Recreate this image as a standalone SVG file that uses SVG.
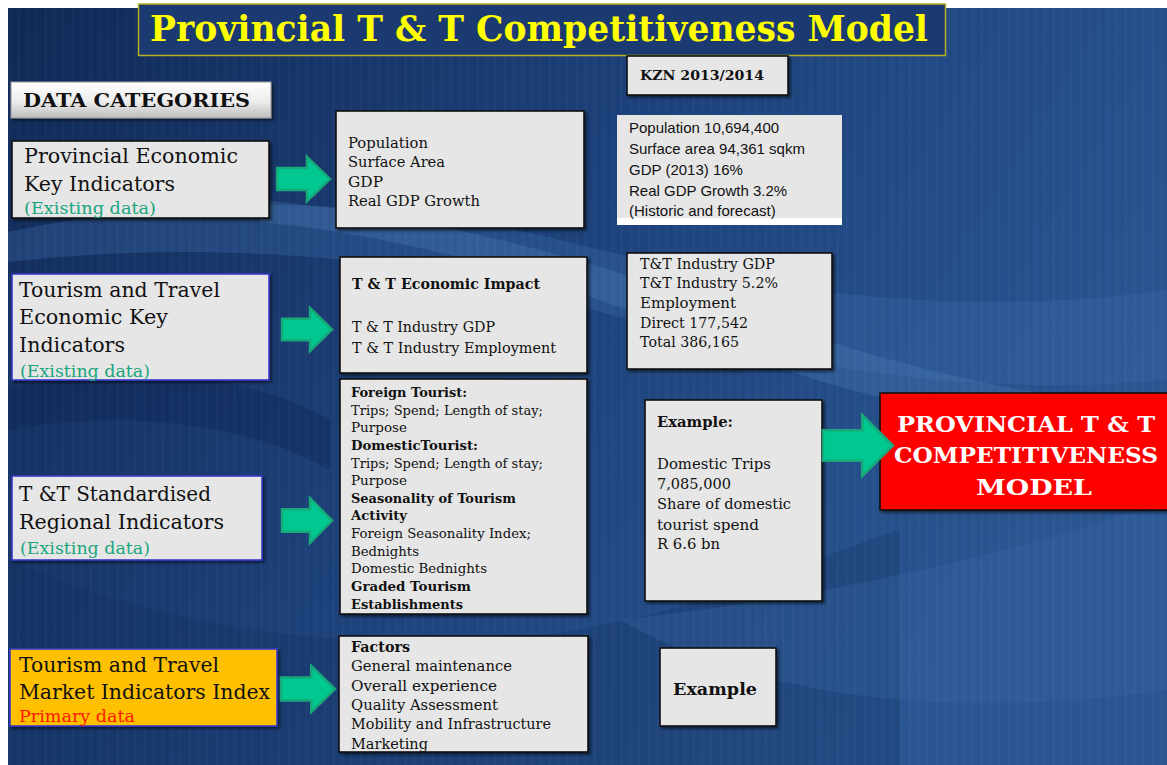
<svg xmlns="http://www.w3.org/2000/svg" width="1167" height="765" viewBox="0 0 1167 765">
  <defs>
    <linearGradient id="bg" x1="0" y1="0" x2="1" y2="0.4">
      <stop offset="0" stop-color="#112a57"/>
      <stop offset="0.5" stop-color="#1d417a"/>
      <stop offset="1" stop-color="#2a5692"/>
    </linearGradient>
    <linearGradient id="hdr" x1="0" y1="0" x2="0" y2="1">
      <stop offset="0" stop-color="#ffffff"/>
      <stop offset="0.55" stop-color="#ececec"/>
      <stop offset="1" stop-color="#bdbdbd"/>
    </linearGradient>
    <pattern id="streaks" width="9" height="20" patternUnits="userSpaceOnUse">
      <rect x="0" y="0" width="1" height="20" fill="#ffffff" opacity="0.035"/>
      <rect x="5" y="0" width="1" height="20" fill="#000000" opacity="0.04"/>
    </pattern>
    <filter id="shadow" x="-5%" y="-5%" width="115%" height="120%">
      <feDropShadow dx="2" dy="2" stdDeviation="1.5" flood-color="#000" flood-opacity="0.55"/>
    </filter>
    <style>
      .box { fill: #e6e6e6; stroke: #111; stroke-width: 1.6; filter: url(#shadow); }
      .boxb { fill: #e6e6e6; stroke: #3a3ac8; stroke-width: 1.6; filter: url(#shadow); }
      .slab { font-family: "DejaVu Serif", "Liberation Serif", serif; fill: #111; }
      .big { font-size: 21px; }
      .mid { font-size: 14px; }
      .sm { font-size: 12.5px; }
      .b { font-weight: bold; }
      .green { fill: #1aa57e; font-size: 17px; }
      .sans { font-family: "Liberation Sans", Arial, sans-serif; font-size: 15px; fill: #111; }
      .arr { fill: #00c890; stroke: #17a97a; stroke-width: 2.5; stroke-linejoin: miter; }
    </style>
  </defs>

  <!-- page -->
  <rect width="1167" height="765" fill="#ffffff"/>
  <rect x="8" y="8" width="1159" height="757" fill="url(#bg)"/>
  <!-- soft sweeping bands in the backdrop -->
  <path d="M8,232 C200,190 400,200 560,240 C760,290 950,320 1167,290 L1167,380 C950,400 760,360 560,300 C400,255 200,240 8,262 Z" fill="#3d6aa8" opacity="0.35"/>
  <path d="M260,200 C420,215 560,250 700,300 C850,350 1000,400 1167,405 L1167,440 C980,430 820,390 680,330 C540,275 400,235 260,222 Z" fill="#5080bb" opacity="0.3"/>
  <path d="M8,560 C150,620 300,650 500,640 C700,620 800,560 900,530 L900,765 L8,765 Z" fill="#0f2a58" opacity="0.25"/>
  <path d="M620,620 C760,700 960,720 1167,690 L1167,500 C1000,560 800,600 620,620 Z" fill="#3d6aa8" opacity="0.3"/>
  <path d="M8,390 C120,360 240,370 330,420 L330,470 C240,420 120,410 8,430 Z" fill="#0d2350" opacity="0.35"/>
  <rect x="8" y="8" width="1159" height="757" fill="url(#streaks)"/>

  <!-- title -->
  <g id="title">
    <rect x="138.5" y="4" width="807" height="51.5" fill="#1b3a72" stroke="#b8b020" stroke-width="1.5"/>
    <text x="150" y="41" class="slab b" font-size="35" style="fill:#ffff00" textLength="778" lengthAdjust="spacingAndGlyphs">Provincial T &amp; T Competitiveness Model</text>
  </g>

  <g id="kzn">
    <rect x="627" y="56" width="161" height="39" class="box"/>
    <text x="640" y="80" class="slab b" font-size="13" textLength="124" lengthAdjust="spacingAndGlyphs">KZN 2013/2014</text>
  </g>

  <g id="data-categories">
    <rect x="11" y="82" width="260" height="36" fill="url(#hdr)" stroke="#9a9a9a" stroke-width="1" filter="url(#shadow)"/>
    <text x="23" y="107" class="slab b" font-size="19" textLength="227" lengthAdjust="spacingAndGlyphs">DATA CATEGORIES</text>
  </g>

  <!-- row 1 -->
  <g id="provincial-economic">
    <rect x="12" y="141" width="257" height="77" class="box"/>
    <text class="slab big"><tspan x="24" y="163" textLength="214" lengthAdjust="spacingAndGlyphs">Provincial Economic</tspan><tspan x="24" y="191" textLength="151" lengthAdjust="spacingAndGlyphs">Key Indicators</tspan></text>
    <text x="24" y="214" class="slab green" textLength="132" lengthAdjust="spacingAndGlyphs">(Existing data)</text>
  </g>

  <g id="population-list">
    <rect x="336" y="111" width="248" height="117" class="box"/>
    <text class="slab mid">
      <tspan x="348" y="148" textLength="80" lengthAdjust="spacingAndGlyphs">Population</tspan>
      <tspan x="348" y="167" textLength="97" lengthAdjust="spacingAndGlyphs">Surface Area</tspan>
      <tspan x="348" y="187" textLength="35" lengthAdjust="spacingAndGlyphs">GDP</tspan>
      <tspan x="348" y="206" textLength="132" lengthAdjust="spacingAndGlyphs">Real GDP Growth</tspan>
    </text>
  </g>

  <g id="kzn-figures">
    <rect x="617" y="115" width="225" height="110" fill="#e6e6e6"/>
    <rect x="617" y="218" width="225" height="7" fill="#ffffff"/>
    <text class="sans">
      <tspan x="629" y="133">Population 10,694,400</tspan>
      <tspan x="629" y="154">Surface area 94,361 sqkm</tspan>
      <tspan x="629" y="175">GDP (2013) 16%</tspan>
      <tspan x="629" y="196">Real GDP Growth 3.2%</tspan>
      <tspan x="629" y="216">(Historic and forecast)</tspan>
    </text>
  </g>

  <!-- row 2 -->
  <g id="tt-economic">
    <rect x="12" y="274" width="257" height="106" class="boxb"/>
    <text class="slab big">
      <tspan x="19" y="297" textLength="201" lengthAdjust="spacingAndGlyphs">Tourism and Travel</tspan>
      <tspan x="19" y="324" textLength="149" lengthAdjust="spacingAndGlyphs">Economic Key</tspan>
      <tspan x="19" y="352" textLength="106" lengthAdjust="spacingAndGlyphs">Indicators</tspan>
    </text>
    <text x="20" y="377" class="slab green" textLength="130" lengthAdjust="spacingAndGlyphs">(Existing data)</text>
  </g>

  <g id="tt-impact">
    <rect x="340" y="257" width="247" height="116" class="box"/>
    <text x="352" y="289" class="slab mid b" textLength="188" lengthAdjust="spacingAndGlyphs">T &amp; T Economic Impact</text>
    <text class="slab mid">
      <tspan x="352" y="332" textLength="143" lengthAdjust="spacingAndGlyphs">T &amp; T Industry GDP</tspan>
      <tspan x="352" y="353" textLength="204" lengthAdjust="spacingAndGlyphs">T &amp; T Industry Employment</tspan>
    </text>
  </g>

  <g id="tt-figures">
    <rect x="627" y="253" width="205" height="116" class="box"/>
    <text class="slab mid">
      <tspan x="640" y="269" textLength="135" lengthAdjust="spacingAndGlyphs">T&amp;T Industry GDP</tspan>
      <tspan x="640" y="288" textLength="138" lengthAdjust="spacingAndGlyphs">T&amp;T Industry 5.2%</tspan>
      <tspan x="640" y="308" textLength="96" lengthAdjust="spacingAndGlyphs">Employment</tspan>
      <tspan x="640" y="328" textLength="108" lengthAdjust="spacingAndGlyphs">Direct 177,542</tspan>
      <tspan x="640" y="347" textLength="99" lengthAdjust="spacingAndGlyphs">Total 386,165</tspan>
    </text>
  </g>

  <!-- row 3 -->
  <g id="tt-standardised">
    <rect x="12" y="476" width="250" height="84" class="boxb"/>
    <text class="slab big">
      <tspan x="19" y="501" textLength="192" lengthAdjust="spacingAndGlyphs">T &amp;T Standardised</tspan>
      <tspan x="19" y="529" textLength="205" lengthAdjust="spacingAndGlyphs">Regional Indicators</tspan>
    </text>
    <text x="20" y="554" class="slab green" textLength="130" lengthAdjust="spacingAndGlyphs">(Existing data)</text>
  </g>

  <g id="tourist-indicators">
    <rect x="340" y="379" width="247" height="235" class="box"/>
    <text class="slab sm">
      <tspan x="351" y="397" font-weight="bold" textLength="116" lengthAdjust="spacingAndGlyphs">Foreign Tourist:</tspan>
      <tspan x="351" y="415" textLength="192" lengthAdjust="spacingAndGlyphs">Trips; Spend; Length of stay;</tspan>
      <tspan x="351" y="432" textLength="56" lengthAdjust="spacingAndGlyphs">Purpose</tspan>
      <tspan x="351" y="450" font-weight="bold" textLength="127" lengthAdjust="spacingAndGlyphs">DomesticTourist:</tspan>
      <tspan x="351" y="468" textLength="192" lengthAdjust="spacingAndGlyphs">Trips; Spend; Length of stay;</tspan>
      <tspan x="351" y="485" textLength="56" lengthAdjust="spacingAndGlyphs">Purpose</tspan>
      <tspan x="351" y="503" font-weight="bold" textLength="165" lengthAdjust="spacingAndGlyphs">Seasonality of Tourism</tspan>
      <tspan x="351" y="520" font-weight="bold" textLength="56" lengthAdjust="spacingAndGlyphs">Activity</tspan>
      <tspan x="351" y="538" textLength="180" lengthAdjust="spacingAndGlyphs">Foreign Seasonality Index;</tspan>
      <tspan x="351" y="556" textLength="68" lengthAdjust="spacingAndGlyphs">Bednights</tspan>
      <tspan x="351" y="573" textLength="136" lengthAdjust="spacingAndGlyphs">Domestic Bednights</tspan>
      <tspan x="351" y="591" font-weight="bold" textLength="120" lengthAdjust="spacingAndGlyphs">Graded Tourism</tspan>
      <tspan x="351" y="609" font-weight="bold" textLength="112" lengthAdjust="spacingAndGlyphs">Establishments</tspan>
    </text>
  </g>

  <g id="domestic-example">
    <rect x="645" y="400" width="177" height="201" class="box"/>
    <text x="657" y="427" class="slab mid b" textLength="76" lengthAdjust="spacingAndGlyphs">Example:</text>
    <text class="slab mid">
      <tspan x="657" y="469" textLength="114" lengthAdjust="spacingAndGlyphs">Domestic Trips</tspan>
      <tspan x="657" y="489" textLength="74" lengthAdjust="spacingAndGlyphs">7,085,000</tspan>
      <tspan x="657" y="509" textLength="134" lengthAdjust="spacingAndGlyphs">Share of domestic</tspan>
      <tspan x="657" y="530" textLength="102" lengthAdjust="spacingAndGlyphs">tourist spend</tspan>
      <tspan x="657" y="549" textLength="63" lengthAdjust="spacingAndGlyphs">R 6.6 bn</tspan>
    </text>
  </g>

  <g id="competitiveness-model">
    <rect x="880" y="393" width="295" height="117" fill="#ff0000" stroke="#111" stroke-width="1.6" filter="url(#shadow)"/>
    <text class="slab b" font-size="22" style="fill:#ffffff">
      <tspan x="897" y="432" textLength="258" lengthAdjust="spacingAndGlyphs">PROVINCIAL T &amp; T</tspan>
      <tspan x="894" y="463" textLength="264" lengthAdjust="spacingAndGlyphs">COMPETITIVENESS</tspan>
      <tspan x="976" y="495" textLength="116" lengthAdjust="spacingAndGlyphs">MODEL</tspan>
    </text>
  </g>

  <!-- row 4 -->
  <g id="market-indicators">
    <rect x="10" y="649" width="267" height="77" fill="#ffc000" stroke="#3a3ac8" stroke-width="1.6" filter="url(#shadow)"/>
    <text class="slab big">
      <tspan x="19" y="672" textLength="200" lengthAdjust="spacingAndGlyphs">Tourism and Travel</tspan>
      <tspan x="19" y="699" textLength="251" lengthAdjust="spacingAndGlyphs">Market Indicators Index</tspan>
    </text>
    <text x="19" y="722" class="slab" font-size="16" style="fill:#ff1a00" textLength="116" lengthAdjust="spacingAndGlyphs">Primary data</text>
  </g>

  <g id="factors">
    <rect x="339" y="636" width="249" height="116" class="box"/>
    <svg x="339" y="636" width="249" height="116" overflow="hidden">
      <text class="slab mid">
        <tspan x="12" y="16" font-weight="bold" textLength="59" lengthAdjust="spacingAndGlyphs">Factors</tspan>
        <tspan x="12" y="35" textLength="161" lengthAdjust="spacingAndGlyphs">General maintenance</tspan>
        <tspan x="12" y="55" textLength="146" lengthAdjust="spacingAndGlyphs">Overall experience</tspan>
        <tspan x="12" y="74" textLength="147" lengthAdjust="spacingAndGlyphs">Quality Assessment</tspan>
        <tspan x="12" y="93" textLength="200" lengthAdjust="spacingAndGlyphs">Mobility and Infrastructure</tspan>
        <tspan x="12" y="113" textLength="77" lengthAdjust="spacingAndGlyphs">Marketing</tspan>
      </text>
    </svg>
  </g>

  <g id="market-example">
    <rect x="660" y="648" width="116" height="78" class="box"/>
    <text x="673" y="695" class="slab b" font-size="17" textLength="84" lengthAdjust="spacingAndGlyphs">Example</text>
  </g>

  <!-- block arrows linking the columns -->
  <g id="connectors">
    <path class="arr" d="M277,168 H307 V157 L330,179 L307,201 V190 H277 Z"/>
    <path class="arr" d="M282,318.75 H310 V308 L332,329.5 L310,351 V340.25 H282 Z"/>
    <path class="arr" d="M282,509.25 H310 V498 L332,520.5 L310,543 V531.75 H282 Z"/>
    <path class="arr" d="M823,430.25 H862.2 V415 L893,445.5 L862.2,476 V460.75 H823 Z"/>
    <path class="arr" d="M281,677.5 H311.2 V666 L335,689 L311.2,712 V700.5 H281 Z"/>
  </g>
</svg>
